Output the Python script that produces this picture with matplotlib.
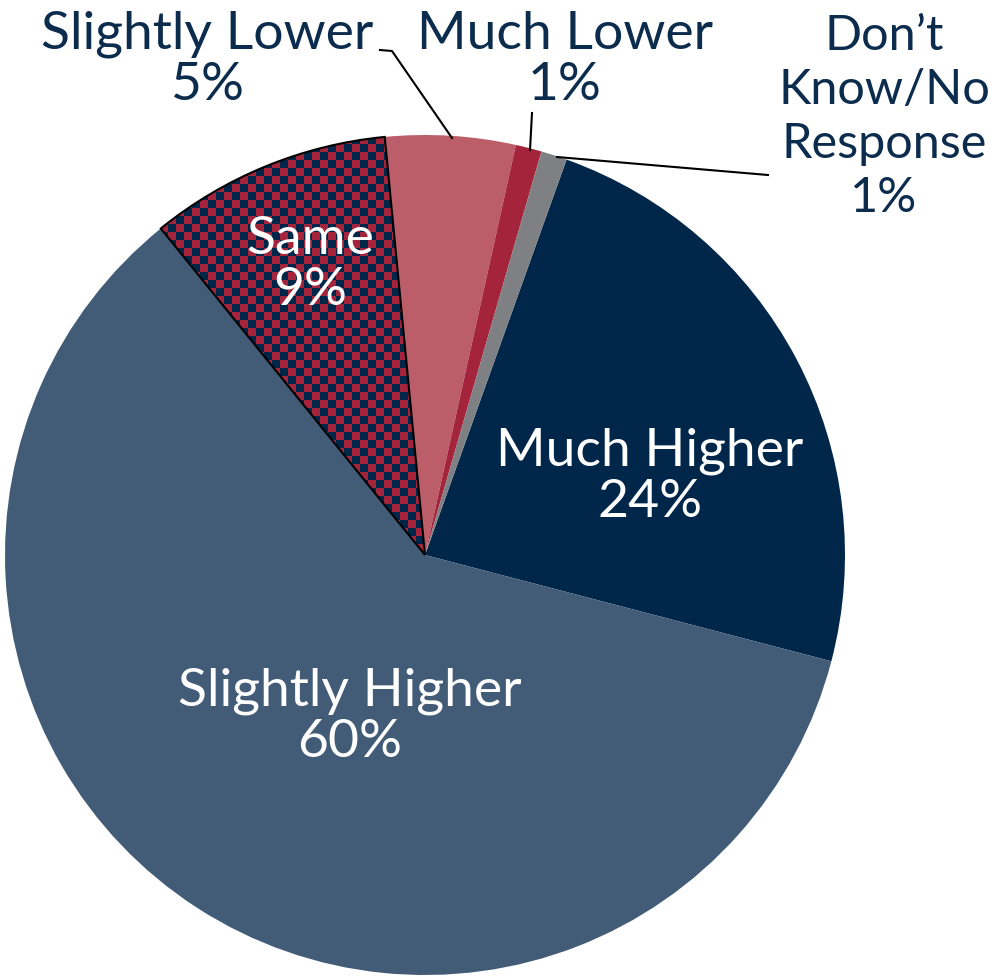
import numpy as np
import matplotlib.pyplot as plt
from matplotlib.colors import ListedColormap

# データ
categories = ['Much Higher', 'Slightly Higher', 'Same', 'Slightly Lower', 'Much Lower',
              'Don\u2019t\nKnow/No\nResponse']
values = [23.6, 60.1, 9.3, 5.0, 1.0, 1.0]
colors = ['#00264A', '#425C78', '#A3243B', '#BC5D6A', '#A3243B', '#7F8083']

plt.rcParams['font.family'] = ['Lato', 'DejaVu Sans']
navy = '#0C2C4E'

W, H = 993, 976
R = 420.0
cx, cy = 425, 555

fig = plt.figure(figsize=(W / 100, H / 100), dpi=100)
ax = fig.add_axes([0, 0, 1, 1])

xmin = -cx / R
ymin = -(H - cy) / R
xmax = xmin + W / R
ymax = ymin + H / R


def px(x, y):
    # ピクセル座標 -> データ座標
    return x / R + xmin, (H - y) / R + ymin


wedges, _ = ax.pie(values, colors=colors, startangle=70.3, counterclock=False,
                   radius=1.0, wedgeprops=dict(linewidth=0))

# Same のチェック柄
same = wedges[2]
same.set_edgecolor('black')
same.set_linewidth(1.5)
same.set_zorder(3)
cell = 8
ny, nx = H // cell + 2, W // cell + 2
board = (np.add.outer(np.arange(ny), np.arange(nx)) % 2).astype(float)
img = ax.imshow(board, cmap=ListedColormap(['#A3243B', '#00264A']), interpolation='nearest',
                extent=(xmin, xmin + nx * cell / R, ymax - ny * cell / R, ymax),
                origin='upper', zorder=2)
img.set_clip_path(same)
same.set_facecolor('none')

ax.set_xlim(xmin, xmax)
ax.set_ylim(ymin, ymax)
ax.set_aspect('equal')
ax.axis('off')

fs = 38.5
ls = 1.1
pct = ['%d%%' % round(v) for v in values]

# 内側ラベル
inner = {0: (650, 477), 1: (350, 717), 2: (310, 265)}
for i, (x, y) in inner.items():
    ax.text(*px(x, y), categories[i] + '\n' + pct[i], color='white', fontsize=fs,
            ha='center', va='center', linespacing=ls, zorder=5)

# 外側ラベル
outer = {3: (207, 60, fs, ls), 4: (565, 60, fs, ls), 5: (884, 117, 35, 1.28)}
for i, (x, y, s, l) in outer.items():
    ax.text(*px(x, y), categories[i] + '\n' + pct[i], color=navy, fontsize=s,
            ha='center', va='center', linespacing=l, zorder=5)

# 引き出し線
leaders = [[(380, 50), (392, 51), (452, 138)],
           [(532, 113), (530, 150)],
           [(557, 157), (768, 175)]]
for pts in leaders:
    xs, ys = zip(*[px(x, y) for x, y in pts])
    ax.plot(xs, ys, color='black', lw=1.5, zorder=4)

fig.savefig('out.png', dpi=100)
